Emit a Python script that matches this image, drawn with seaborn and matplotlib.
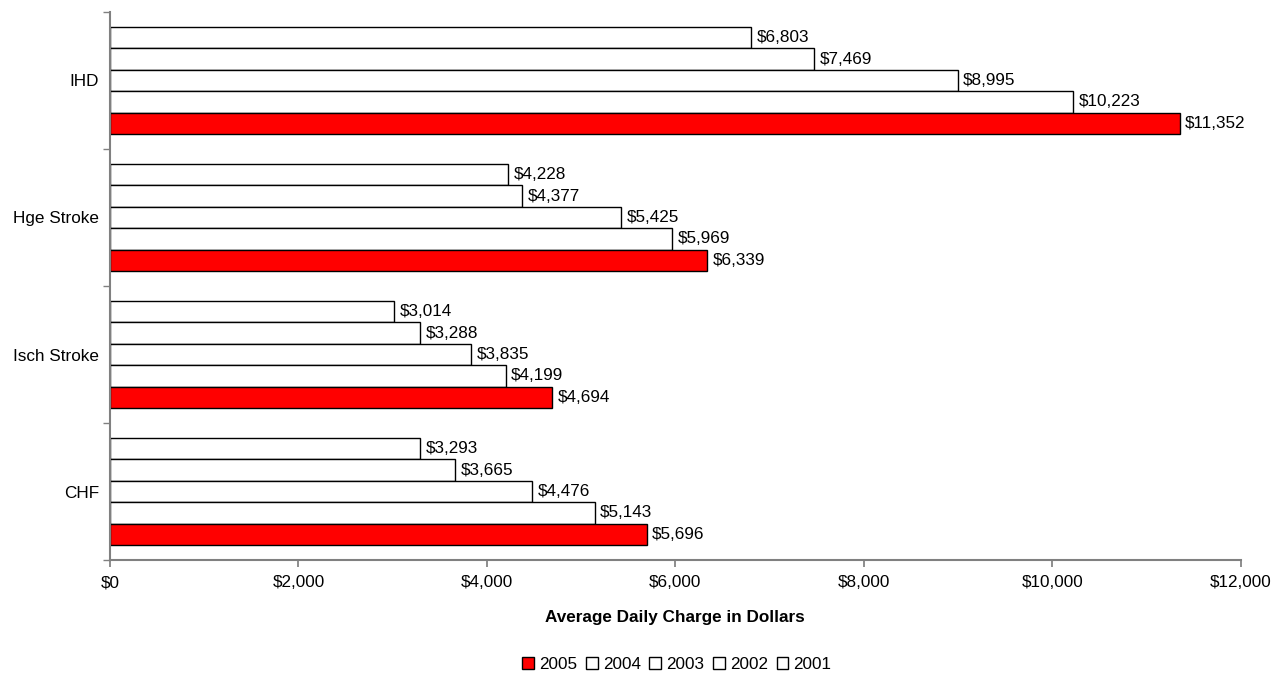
import matplotlib
matplotlib.use("Agg")
import matplotlib.pyplot as plt
import seaborn as sns
import pandas as pd
from matplotlib.patches import Patch

categories = ["IHD", "Hge Stroke", "Isch Stroke", "CHF"]
years = ["2001", "2002", "2003", "2004", "2005"]
v2001 = [6803, 4228, 3014, 3293]
v2002 = [7469, 4377, 3288, 3665]
v2003 = [8995, 5425, 3835, 4476]
v2004 = [10223, 5969, 4199, 5143]
v2005 = [11352, 6339, 4694, 5696]
xticks = [0, 2000, 4000, 6000, 8000, 10000, 12000]

series = {"2001": v2001, "2002": v2002, "2003": v2003, "2004": v2004, "2005": v2005}
rows = []
for y in years:
    for c, v in zip(categories, series[y]):
        rows.append({"Category": c, "Year": y, "Value": v})
df = pd.DataFrame(rows)

sns.set_theme(style="white")
plt.rcParams["font.family"] = ["Liberation Sans", "DejaVu Sans"]
plt.rcParams["text.color"] = "black"
plt.rcParams["axes.labelcolor"] = "black"
plt.rcParams["xtick.color"] = "black"
plt.rcParams["ytick.color"] = "black"

FS = 12.3
colors = {"2001": "white", "2002": "white", "2003": "white", "2004": "white", "2005": "#ff0000"}

fig = plt.figure(figsize=(12.77, 6.77), dpi=100)
ax = fig.add_axes([0.0861, 0.1728, 0.8855, 0.8095])

sns.barplot(data=df, y="Category", x="Value", hue="Year", order=categories,
            hue_order=years, palette=colors, orient="h", width=0.78, saturation=1,
            edgecolor="black", linewidth=1.0, ax=ax, legend=False)

for cont in ax.containers:
    ax.bar_label(cont, labels=[f"${v:,.0f}" for v in cont.datavalues],
                 padding=4, fontsize=FS, color="black")

ax.set_xlim(0, 12000)
ax.set_ylim(3.5, -0.5)
ax.set_xticks(xticks)
ax.set_xticklabels([f"${t:,}" for t in xticks], fontsize=FS)
ax.set_yticks([0, 1, 2, 3])
ax.set_yticklabels(categories, fontsize=FS)
ax.set_yticks([-0.5, 0.5, 1.5, 2.5, 3.5], minor=True)
ax.tick_params(axis="y", which="major", length=0, pad=8, labelcolor="black")
ax.tick_params(axis="y", which="minor", length=5, color="#808080", left=True)
ax.tick_params(axis="x", which="major", length=5, color="#808080", bottom=True, pad=6,
               labelcolor="black")
ax.set_ylabel("")
ax.set_xlabel("Average Daily Charge in Dollars", fontsize=FS, fontweight="bold",
              labelpad=14, color="black")

for s in ["top", "right"]:
    ax.spines[s].set_visible(False)
for s in ["left", "bottom"]:
    ax.spines[s].set_color("#808080")
    ax.spines[s].set_linewidth(1.5)

handles = [Patch(facecolor=colors[y], edgecolor="black", linewidth=1.0, label=y)
           for y in reversed(years)]
fig.legend(handles=handles, loc="center", bbox_to_anchor=(0.53, 0.019), ncol=5,
           frameon=False, fontsize=FS, handlelength=0.7, handleheight=0.7,
           handletextpad=0.3, columnspacing=0.5, labelcolor="black")

fig.savefig("out.png", dpi=100, facecolor="white")
